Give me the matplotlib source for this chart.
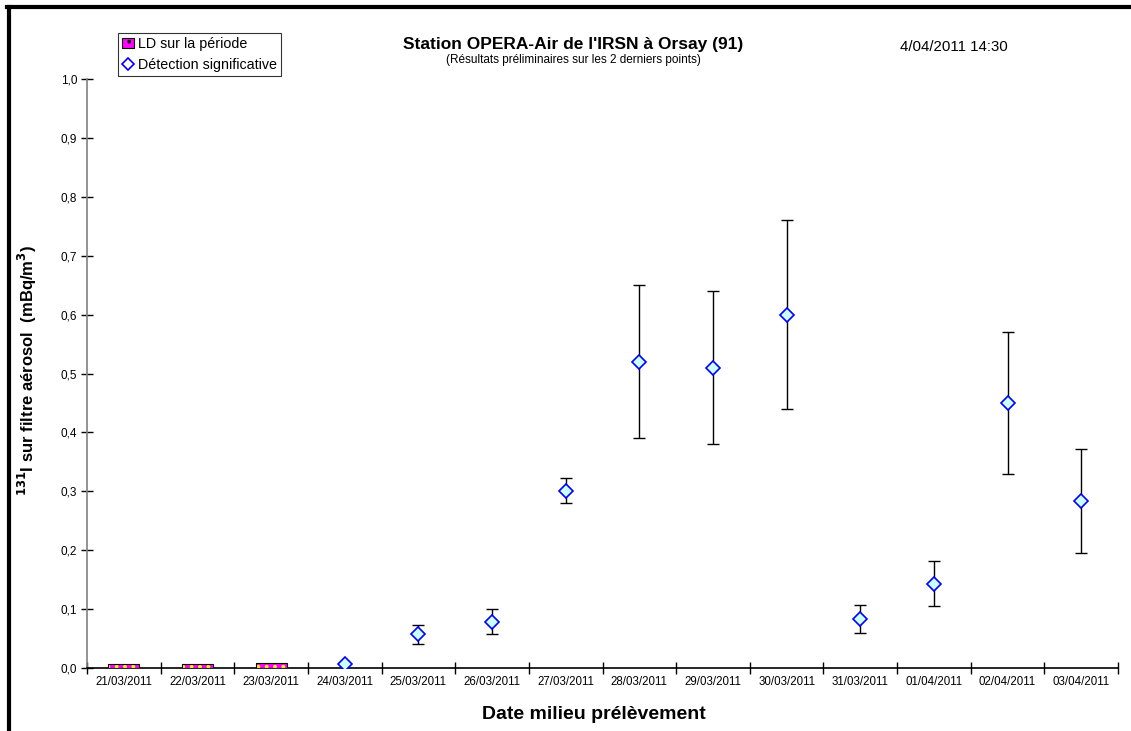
import matplotlib
matplotlib.use("Agg")
import matplotlib.pyplot as plt
from matplotlib.patches import Patch
from matplotlib.lines import Line2D
import numpy as np

plt.rcParams['font.family'] = ['Liberation Sans', 'DejaVu Sans']
plt.rcParams['hatch.linewidth'] = 1.5

dates = ["21/03/2011", "22/03/2011", "23/03/2011", "24/03/2011", "25/03/2011",
         "26/03/2011", "27/03/2011", "28/03/2011", "29/03/2011", "30/03/2011",
         "31/03/2011", "01/04/2011", "02/04/2011", "03/04/2011"]
# LD (limite de détection) bars
ld_idx = [0, 1, 2]
ld_vals = [0.006, 0.006, 0.008]
# Significant detections
det_idx = [3, 4, 5, 6, 7, 8, 9, 10, 11, 12, 13]
det_vals = [0.006, 0.057, 0.078, 0.300, 0.520, 0.510, 0.600, 0.083, 0.143, 0.450, 0.283]
det_low = [np.nan, 0.040, 0.057, 0.280, 0.390, 0.380, 0.440, 0.060, 0.105, 0.330, 0.196]
det_high = [np.nan, 0.073, 0.100, 0.322, 0.650, 0.640, 0.760, 0.107, 0.182, 0.570, 0.372]
yticks = [0.0, 0.1, 0.2, 0.3, 0.4, 0.5, 0.6, 0.7, 0.8, 0.9, 1.0]

fig = plt.figure(figsize=(11.31, 7.31), dpi=100)
ax = fig.add_axes([87/1131, 63/731, (1118-87)/1131, (668-79)/731])

# LD bars
ax.bar(ld_idx, ld_vals, width=0.42, color='#ff00ff', hatch='..', edgecolor='#ffff00',
       linewidth=0, zorder=3)
ax.bar(ld_idx, ld_vals, width=0.42, fill=False, edgecolor='black', linewidth=0.8, zorder=4)

# Error bars
x = np.array(det_idx, dtype=float)
v = np.array(det_vals)
lo = v - np.array(det_low)
hi = np.array(det_high) - v
mask = ~np.isnan(lo)
ax.errorbar(x[mask], v[mask], yerr=[lo[mask], hi[mask]], fmt='none', ecolor='black',
            elinewidth=1, capsize=4, capthick=1, zorder=3)
ax.plot(x, v, linestyle='none', marker='D', markersize=7.5, markerfacecolor='#ccffff',
        markeredgecolor='#0000ff', markeredgewidth=1.2, zorder=5)

ax.set_xlim(-0.5, len(dates) - 0.5)
ax.set_ylim(0, 1.0)
ax.set_yticks(yticks)
ax.set_yticklabels([f"{t:.1f}".replace('.', ',') for t in yticks], fontsize=8.5)
ax.set_xticks(np.arange(len(dates)))
ax.set_xticklabels(dates, fontsize=8.3)
ax.tick_params(axis='x', length=0, pad=6)
ax.set_xticks(np.arange(len(dates) + 1) - 0.5, minor=True)
ax.tick_params(axis='x', which='minor', direction='inout', length=8, width=1, color='black')
ax.tick_params(axis='y', direction='inout', length=8, width=1, color='black', pad=3)

for s in ['top', 'right']:
    ax.spines[s].set_visible(False)
ax.spines['left'].set_color('#808080')
ax.spines['left'].set_linewidth(1.2)
ax.spines['bottom'].set_color('black')
ax.spines['bottom'].set_linewidth(1.2)

ax.set_xlabel("Date milieu prélèvement", fontsize=14, fontweight='bold')
ax.xaxis.set_label_coords(0.492, -0.064)
ax.set_ylabel(r"$\mathbf{^{131}}$I sur filtre aérosol  (mBq/m$\mathbf{^3}$)", fontsize=12,
              fontweight='bold')
ax.yaxis.set_label_coords(-0.047, 0.505)

fig.text(573/1131, 1 - 44/731, "Station OPERA-Air de l'IRSN à Orsay (91)", fontsize=12.5,
         fontweight='bold', ha='center', va='center')
fig.text(573/1131, 1 - 60/731, "(Résultats préliminaires sur les 2 derniers points)",
         fontsize=8.5, ha='center', va='center')
fig.text(954/1131, 1 - 47/731, "4/04/2011 14:30", fontsize=10.8, ha='center', va='center')

handles = [Patch(facecolor='#ff00ff', edgecolor='black', hatch='..', linewidth=0.8),
           Line2D([], [], linestyle='none', marker='D', markersize=6.5, markerfacecolor='white',
                  markeredgecolor='#0000ff', markeredgewidth=1.2)]
leg = fig.legend(handles, ["LD sur la période", "Détection significative"],
                 loc='upper left', bbox_to_anchor=(118/1131, 1 - 33/731), fontsize=10.3,
                 frameon=True, fancybox=False, edgecolor='black', borderpad=0.3,
                 handlelength=0.8, handletextpad=0.3, labelspacing=0.45, borderaxespad=0)
leg.get_frame().set_linewidth(0.8)

# Outer border lines (top and left)
fig.add_artist(Line2D([8.5/1131, 8.5/1131], [0, 1 - 6.5/731], color='black', linewidth=3,
                      transform=fig.transFigure))
fig.add_artist(Line2D([7/1131, 1], [1 - 6.5/731, 1 - 6.5/731], color='black', linewidth=3,
                      transform=fig.transFigure))

fig.savefig("out.png", dpi=100)
